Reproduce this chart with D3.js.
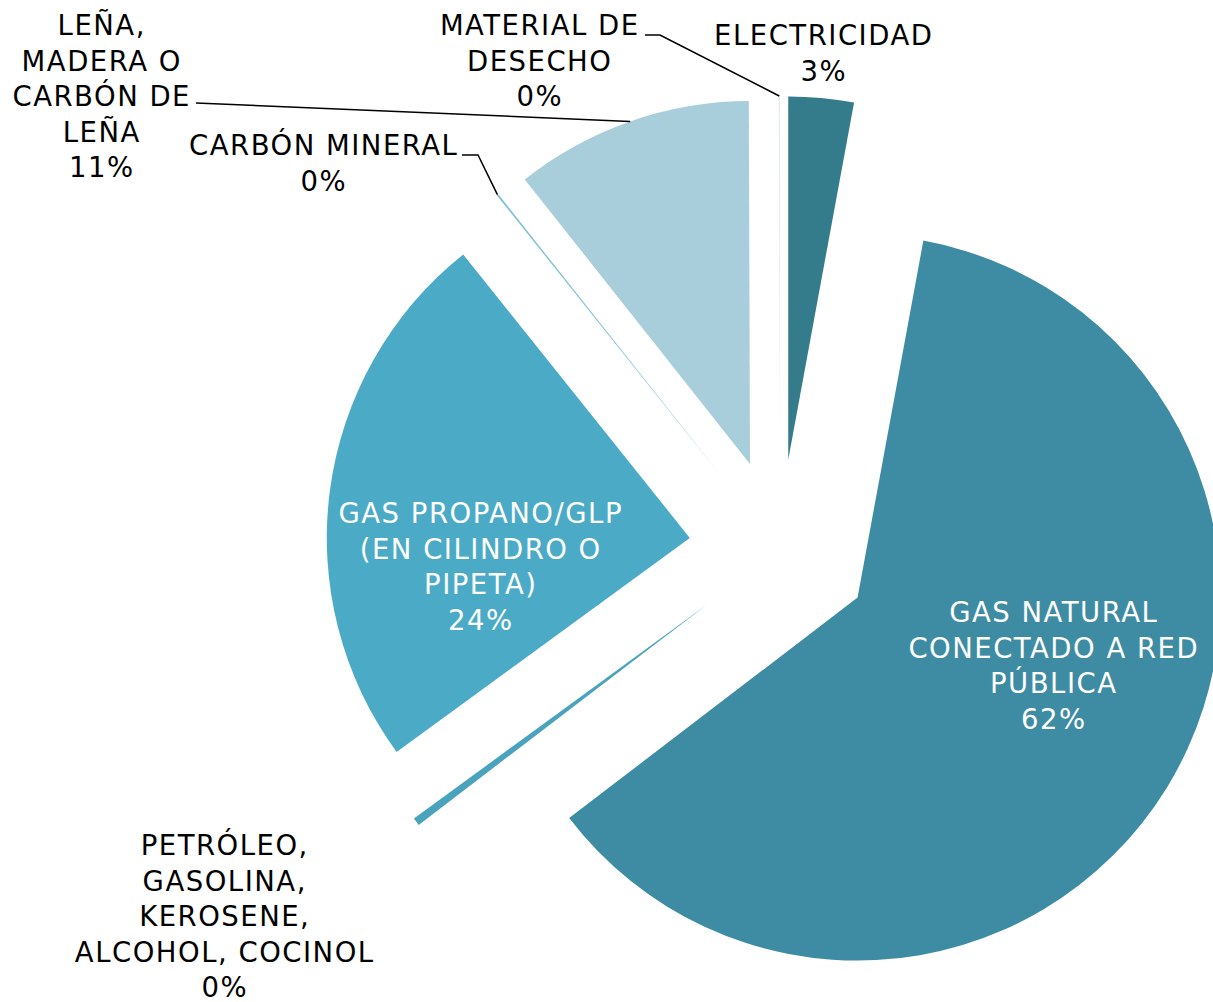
<!DOCTYPE html>
<html>
<head>
<meta charset="utf-8">
<script src="https://cdn.jsdelivr.net/npm/d3@7"></script>
<style>
  html, body { margin: 0; padding: 0; background: #fff; }
  svg { display: block; }
  text { font-family: "DejaVu Sans", Verdana, sans-serif; }
</style>
</head>
<body>
<div id="chart"></div>
<script>
// data (percent of households)
const categories = [
    "ELECTRICIDAD",
    "GAS NATURAL CONECTADO A RED PÚBLICA",
    "PETRÓLEO, GASOLINA, KEROSENE, ALCOHOL, COCINOL",
    "GAS PROPANO/GLP (EN CILINDRO O PIPETA)",
    "CARBÓN MINERAL",
    "LEÑA, MADERA O CARBÓN DE LEÑA",
    "MATERIAL DE DESECHO"
];
const values = [2.9, 61.7, 0.35, 24.3, 0.08, 10.6, 0.05];
const labelLines = [
    ["ELECTRICIDAD"],
    ["GAS NATURAL", "CONECTADO A RED", "PÚBLICA"],
    ["PETRÓLEO,", "GASOLINA,", "KEROSENE,", "ALCOHOL, COCINOL"],
    ["GAS PROPANO/GLP", "(EN CILINDRO O", "PIPETA)"],
    ["CARBÓN MINERAL"],
    ["LEÑA,", "MADERA O", "CARBÓN DE", "LEÑA"],
    ["MATERIAL DE", "DESECHO"]
];
const colors = ["#347b8b", "#3e8ca4", "#4aa3bd", "#4babc7", "#80c0d4", "#a9cedb", "#dcecf2"];

// layout
const width = 1213, height = 1002;
const cx = 780, cy = 550, R = 363, EXPLODE = 91;
const FONT = 27.5, SPACING = 1.5, LINE_H = 35.6;

// where each label sits (first line centre) and its leader elbow points
const labelLayout = [
    { x: 823, y: 35, fill: "#000" },
    { x: 1053, y: 612, fill: "#fff" },
    { x: 224, y: 845, fill: "#000" },
    { x: 480, y: 513, fill: "#fff" },
    { x: 323, y: 145, fill: "#000", leader: [[462, 155], [478, 155]] },
    { x: 101, y: 25, fill: "#000", leader: [[196, 103]] },
    { x: 539, y: 25, fill: "#000", leader: [[645, 35], [660, 35]] }
];

const total = d3.sum(values);
const rows = categories.map((c, i) => ({ name: c, value: values[i], i }));

const svg = d3.select("#chart")
    .append("svg")
    .attr("width", width)
    .attr("height", height);

const pie = d3.pie()
    .sort(null)
    .value(d => d.value);

const arc = d3.arc()
    .innerRadius(0)
    .outerRadius(R);

const arcs = pie(rows);

function offset(d, dist) {
    const mid = (d.startAngle + d.endAngle) / 2;
    return [Math.sin(mid) * dist, -Math.cos(mid) * dist];
}

// slices, each pushed out along its middle angle
const g = svg.append("g")
    .attr("transform", `translate(${cx}, ${cy})`);

g.selectAll("path.slice")
    .data(arcs)
    .enter()
    .append("path")
    .attr("class", "slice")
    .attr("transform", d => {
        const [dx, dy] = offset(d, EXPLODE);
        return `translate(${dx}, ${dy})`;
    })
    .attr("d", arc)
    .attr("fill", d => colors[d.data.i]);

// leader lines: from label elbow to the middle of the slice's outer arc
const lineGen = d3.line();
arcs.forEach(d => {
    const lay = labelLayout[d.data.i];
    if (!lay.leader) return;
    const [ox, oy] = offset(d, EXPLODE + R);
    const pts = lay.leader.concat([[cx + ox, cy + oy]]);
    svg.append("path")
        .attr("d", lineGen(pts))
        .attr("fill", "none")
        .attr("stroke", "#000")
        .attr("stroke-width", 1.5);
});

// labels
arcs.forEach(d => {
    const lay = labelLayout[d.data.i];
    const lines = labelLines[d.data.i].concat([Math.round(d.data.value / total * 100) + "%"]);
    const t = svg.append("text")
        .attr("text-anchor", "middle")
        .attr("font-size", FONT)
        .attr("letter-spacing", SPACING)
        .attr("fill", lay.fill);
    lines.forEach((s, k) => {
        t.append("tspan")
            .attr("x", lay.x + SPACING / 2)
            .attr("y", lay.y + k * LINE_H)
            .attr("dy", "0.36em")
            .text(s);
    });
});
</script>
</body>
</html>
